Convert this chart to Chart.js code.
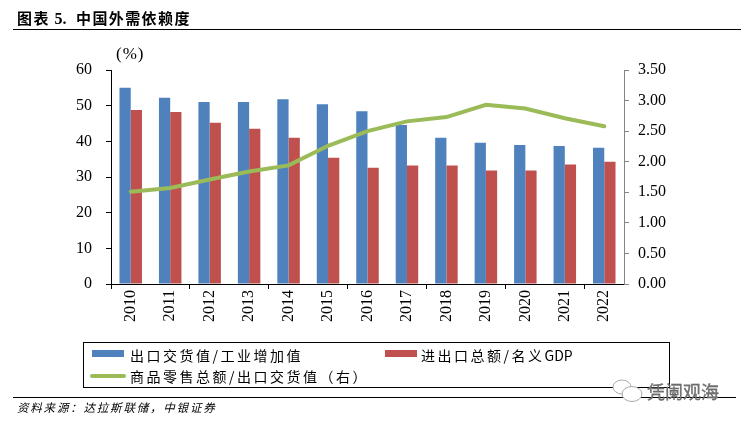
<!DOCTYPE html>
<html lang="zh"><head><meta charset="utf-8">
<script src="https://cdn.jsdelivr.net/npm/chart.js@4"></script>
<style>
html,body{margin:0;padding:0;background:#fff;width:741px;height:424px;overflow:hidden}
#wrap{position:relative;width:741px;height:424px}
canvas{position:absolute;left:0;top:0}
.t{position:absolute;white-space:nowrap;color:#000;font-family:"Noto Sans CJK SC",sans-serif;line-height:1}
.r{position:absolute;background:#000}
</style></head><body>
<div id="wrap">
<canvas id="c" width="741" height="424"></canvas>
<div class="t" style="left:17px;top:10px;font-size:15px;font-weight:700;letter-spacing:1.4px">图表 <span style="font-family:'Liberation Serif',serif;font-size:16px;letter-spacing:0">5.</span></div>
<div class="t" style="left:76px;top:10px;font-size:15px;font-weight:700;letter-spacing:1.4px">中国外需依赖度</div>
<div class="r" style="left:13px;top:29px;width:728px;height:1px"></div>
<div class="t" style="left:116px;top:44px;font:17px 'Liberation Serif',serif;letter-spacing:1px">(%)</div>
<div style="position:absolute;left:83px;top:342px;width:585px;height:44px;border:1px solid #000"></div>
<div style="position:absolute;left:92px;top:350px;width:32px;height:7px;background:#4F81BD"></div>
<div class="t" style="left:130px;top:348px;font-size:14px;letter-spacing:2.5px">出口交货值/工业增加值</div>
<div style="position:absolute;left:385px;top:350px;width:32px;height:7px;background:#C0504D"></div>
<div class="t" style="left:421px;top:348px;font-size:14px;letter-spacing:2.5px">进出口总额/名义<span style="letter-spacing:0">GDP</span></div>
<div style="position:absolute;left:90px;top:374px;width:36px;height:4px;border-radius:2px;background:#9BBB59"></div>
<div class="t" style="left:130px;top:369px;font-size:14px;letter-spacing:2.5px">商品零售总额/出口交货值（右）</div>
<div class="r" style="left:13px;top:397px;width:723px;height:1px"></div>
<div class="t" style="left:17px;top:402px;font-size:11.5px;font-style:italic;letter-spacing:1.8px">资料来源：达拉斯联储，中银证券</div>
<svg style="position:absolute;left:611px;top:379px" width="36" height="24" viewBox="0 0 36 24" fill="#fff" stroke="#aaa" stroke-width="1">
<ellipse cx="11" cy="8" rx="9" ry="7"/><ellipse cx="21" cy="15" rx="10" ry="7.5"/></svg>
<div class="t" style="left:647px;top:382px;font-size:18px;color:#777;letter-spacing:0;-webkit-text-stroke:.3px #555">凭阑观海</div>
</div>
<script>
const categories=["2010","2011","2012","2013","2014","2015","2016","2017","2018","2019","2020","2021","2022"];
const exportShare=[55,52.2,51,51,51.8,50.4,48.4,44.6,41,39.6,39,38.7,38.2];
const tradeShare=[48.8,48.2,45.2,43.5,41,35.4,32.6,33.2,33.2,31.8,31.8,33.5,34.3];
const retailRatio=[1.51,1.57,1.71,1.84,1.94,2.26,2.50,2.66,2.73,2.93,2.87,2.71,2.58];
const leftTicks=[0,10,20,30,40,50,60];
const rightTicks=[0,0.5,1,1.5,2,2.5,3,3.5];
const serif="'Liberation Serif',serif";
new Chart(document.getElementById('c'),{
 type:'bar',
 data:{labels:categories,datasets:[
  {label:'商品零售总额/出口交货值（右）',type:'line',data:retailRatio,yAxisID:'y1',borderColor:'#9BBB59',backgroundColor:'#9BBB59',borderWidth:4,pointRadius:0,tension:0,borderCapStyle:'round',order:0},
  {label:'出口交货值/工业增加值',data:exportShare,yAxisID:'y',backgroundColor:'#4F81BD',order:1},
  {label:'进出口总额/名义GDP',data:tradeShare,yAxisID:'y',backgroundColor:'#C0504D',order:2}
 ]},
 options:{
  responsive:false,animation:false,
  layout:{padding:{left:0,right:0,top:70,bottom:0}},
  plugins:{legend:{display:false},title:{display:false},tooltip:{enabled:false}},
  datasets:{bar:{categoryPercentage:0.57,barPercentage:1}},
  scales:{
   x:{position:'bottom',offset:true,
    afterFit(s){s.height=140},
    grid:{drawOnChartArea:false,offset:true,tickLength:5,
      tickColor:c=>(c.index%2===0?'#000':'rgba(0,0,0,0)')},
    border:{color:'#000',width:1},
    ticks:{minRotation:90,maxRotation:90,autoSkip:false,padding:1,color:'#000',font:{family:serif,size:16}}},
   y:{position:'left',min:0,max:60,
    afterBuildTicks(s){s.ticks=leftTicks.map(v=>({value:v}))},
    afterFit(s){s.width=111},
    grid:{drawOnChartArea:false,tickLength:5,tickColor:'#000'},
    border:{color:'#000',width:1},
    ticks:{padding:14,color:'#000',font:{family:serif,size:16}}},
   y1:{position:'right',min:0,max:3.5,
    afterBuildTicks(s){s.ticks=rightTicks.map(v=>({value:v}))},
    afterFit(s){s.width=117},
    grid:{drawOnChartArea:false,tickLength:5,tickColor:'#868686'},
    border:{color:'#868686',width:1},
    ticks:{padding:9,color:'#000',font:{family:serif,size:16},callback:v=>Number(v).toFixed(2)}}
  }
 }
});
</script></body></html>
